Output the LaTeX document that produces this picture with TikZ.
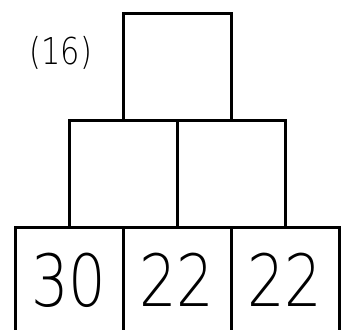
\documentclass[tikz,border=0pt]{standalone}
\usepackage{fontspec}
\newfontfamily\thinfont{DejaVuSans-ExtraLight}[Extension=.ttf,FakeStretch=0.82]
\usetikzlibrary{positioning}
\tikzset{cell/.style={draw,line width=3pt,minimum width=108pt,minimum height=107pt,inner sep=0pt,outer sep=0pt,font=\thinfont\fontsize{72}{76}\selectfont}}
\tikzset{tag/.style={inner sep=0pt,font=\thinfont\fontsize{37}{40}\selectfont}}
\begin{document}
\begin{tikzpicture}[x=1pt,y=1pt]
    \useasboundingbox (0,0) rectangle (350,329);
    \clip (0,0) rectangle (350,329);

    % top of the pyramid
    \node[cell] (top) at (177,261.5) {};
    % middle row
    \node[cell] (midL) at (123,154.5) {};
    \node[cell] (midR) at (231,154.5) {};
    % bottom row, cut off at the lower edge
    \foreach \n/\x/\v in {botL/69/30, botM/177/22, botR/285/22} {
        \node[cell,minimum height=104pt] (\n) at (\x,49) {\v};
    }

    \node[tag] (num) at (61,276) {(16)};
\end{tikzpicture}
\end{document}
